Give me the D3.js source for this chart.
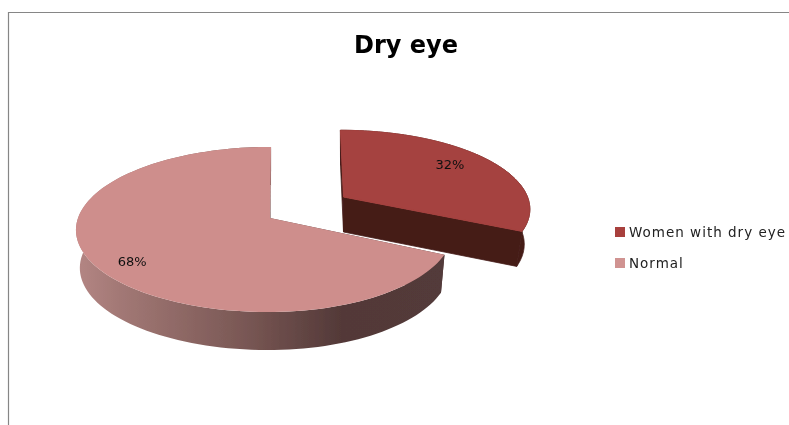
<!DOCTYPE html>
<html><head><meta charset="utf-8">
<script src="https://cdn.jsdelivr.net/npm/d3@7/dist/d3.min.js"></script>
<style>html,body{margin:0;padding:0;background:#fff}svg{display:block}text{font-family:"DejaVu Sans",sans-serif}</style>
</head><body><svg id="c" width="789" height="425"></svg>
<script>
const categories = ["Women with dry eye", "Normal"];
const values = [32, 68];
const labels = ["32%", "68%"];
const title = "Dry eye";

const topColors = ["#A5423F", "#CE8E8C"];
const swatchColors = ["#A8403E", "#D09391"];
const persp = 0.139;
const labelShift = -0.075;
// per-slice projection of the tilted disc
const geom = [
  {cx:343.5, cy:197, X:184, Y:76,  shear:3.5, depth:35, shrink:0.97, labelR:0.78},
  {cx:270,   cy:218, X:192, XR:182, Y:81, shear:-1.2, depth:38, shrink:0.98, labelR:0.83}
];
const svg = d3.select("#c");
const defs = svg.append("defs");
const grad = defs.append("linearGradient").attr("id","side").attr("gradientUnits","userSpaceOnUse")
  .attr("x1",76).attr("x2",445).attr("y1",0).attr("y2",0);
[[0,"#B48684"],[0.12,"#A27875"],[0.45,"#7A5855"],[0.72,"#533938"],[1,"#523A3A"]]
  .forEach(s=>grad.append("stop").attr("offset",s[0]).attr("stop-color",s[1]));
defs.append("filter").attr("id","soft").attr("x",0).attr("y",0).attr("width",789).attr("height",425)
  .attr("filterUnits","userSpaceOnUse")
  .append("feGaussianBlur").attr("stdDeviation",0.4);

const root = svg.append("g").attr("filter","url(#soft)");
root.append("rect").attr("width",789).attr("height",425).attr("fill","#fff");

// frame
root.append("path").attr("d","M8.5 425V12.5H789").attr("fill","none").attr("stroke","#868686").attr("stroke-width",1.2);

root.append("text").attr("x",406).attr("y",53).attr("text-anchor","middle")
  .attr("font-size",24).attr("font-weight","bold").attr("fill","#000").text(title);

const pie = d3.pie().sort(null).value(d=>d);
const arcs = pie(values);
const line = d3.line();

function project(g, a, r, z){
  const u = Math.sin(a)*r, v = -Math.cos(a)*r, s = 1/(1-persp*v);
  const X = (u>0 && g.XR) ? g.XR : g.X;
  const k = z ? g.shrink : 1;
  return [g.cx + (X*u + g.shear*v)*s*k, g.cy + g.Y*v*s + (z?g.depth:0)];
}
function arcPts(g, a0, a1, z){
  const n = 120;
  return d3.range(n+1).map(i=>project(g, a0+(a1-a0)*i/n, 1, z));
}

[1,0].forEach(i=>{
  const d = arcs[i], g = geom[i];
  const wall = i===0 ? "#451C18" : "url(#side)";
  const gr = root.append("g");
  const topA = arcPts(g,d.startAngle,d.endAngle,false);
  const botA = arcPts(g,d.startAngle,d.endAngle,true);
  // outer band
  gr.append("path").attr("d",line(topA.concat(botA.slice().reverse()))+"Z")
    .attr("fill",wall).attr("stroke",i===0?wall:"none").attr("stroke-width",0.8);
  // radial walls
  [d.startAngle,d.endAngle].forEach(a=>{
    const q=[project(g,a,1,false),project(g,a,1,true),project(g,a,0,true),project(g,a,0,false)];
    gr.append("path").attr("d",line(q)+"Z").attr("fill",wall)
      .attr("stroke",i===0?wall:"none").attr("stroke-width",0.8);
  });
  // top surface
  const c = project(g,0,0,false);
  gr.append("path").attr("d",line([c].concat(topA))+"Z").attr("fill",topColors[i])
    .attr("stroke",i===0?topColors[i]:"none").attr("stroke-width",1);
  const lp = project(g,(d.startAngle+d.endAngle)/2+labelShift,g.labelR,false);
  gr.append("text").attr("x",lp[0]).attr("y",lp[1]+5).attr("text-anchor","middle")
    .attr("font-size",13).attr("fill","#111").text(labels[i]);
});

// legend
const ly = d3.scalePoint().domain(categories).range([232,263]);
categories.forEach((c,i)=>{
  root.append("rect").attr("x",615).attr("y",ly(c)-5).attr("width",10).attr("height",10).attr("fill",swatchColors[i]);
  root.append("text").attr("x",629).attr("y",ly(c)+5).attr("font-size",13.5)
    .attr("letter-spacing",1).attr("fill","#222").text(c);
});
</script></body></html>
